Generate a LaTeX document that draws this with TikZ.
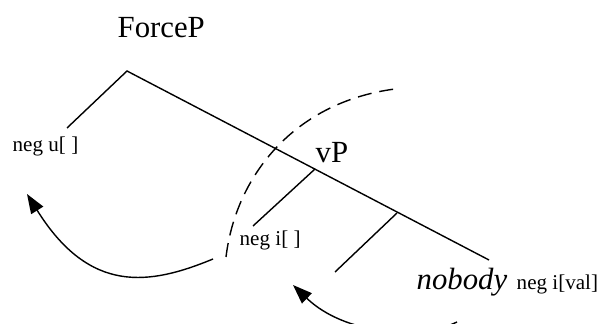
\documentclass[tikz,border=0pt]{standalone}
\usepackage{fontspec}
\setmainfont{Liberation Serif}
\usetikzlibrary{arrows.meta}

\begin{document}
\begin{tikzpicture}[x=0.02cm,y=-0.02cm,line width=0.8pt,
  biglabel/.style={font=\fontsize{17.5}{20}\selectfont,inner sep=0pt,anchor=base west},
  featlabel/.style={font=\fontsize{12}{14}\selectfont,inner sep=0pt,anchor=base west},
  movearrow/.style={-{Triangle[length=11pt,width=8pt]}}]
  \clip (0,0) rectangle (612,324);
  % Labels
  \node[biglabel] (forcep) at (117,38) {ForceP};
  \node[biglabel] (vp) at (315,163) {vP};
  \node[biglabel] (nobody) at (416,290) {\itshape nobody};
  \node[featlabel] (negu) at (12,152) {neg u[ ]};
  \node[featlabel] (negi) at (239,246) {neg i[ ]};
  \node[featlabel] (negival) at (516,290) {neg i[val]};
  % Tree
  \coordinate (top) at (127,71);
  \coordinate (uleaf) at (67,128);
  \coordinate (spine) at (489,260);
  \coordinate (vpjoin) at (315,169);
  \coordinate (ileaf) at (253,226);
  \coordinate (lowjoin) at (397,213);
  \coordinate (lowleaf) at (335,272);
  \draw (uleaf) -- (top) -- (spine);
  \draw (vpjoin) -- (ileaf);
  \draw (lowjoin) -- (lowleaf);
  % Phase boundary
  \coordinate (arcfoot) at (226,257);
  \coordinate (arctop) at (395,89);
  \draw[dash pattern=on 8 off 4.5] (arcfoot) .. controls (236,175) and (295,102) .. (arctop);
  % Movement
  \coordinate (leftstart) at (213,259);
  \coordinate (lefttip) at (27,194);
  \draw[movearrow] (leftstart) .. controls (150,285) and (90,295) .. (lefttip);
  \coordinate (lowstart) at (457,322);
  \coordinate (lowtip) at (293,285);
  \draw[movearrow] (lowstart) .. controls (420,340) and (345,335) .. (lowtip);
\end{tikzpicture}
\end{document}
